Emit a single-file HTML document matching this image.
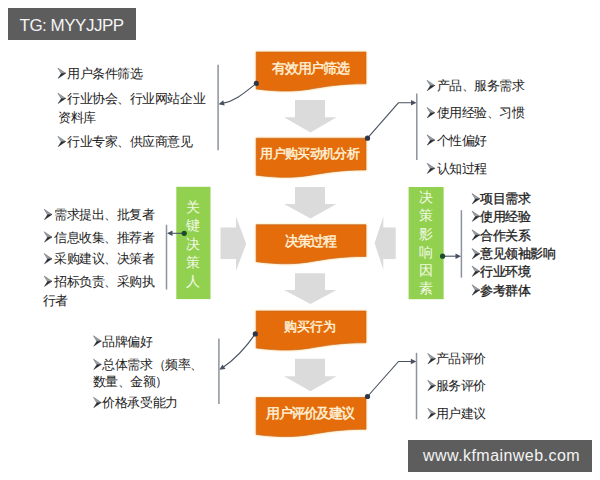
<!DOCTYPE html>
<html><head><meta charset="utf-8"><style>
html,body{margin:0;padding:0;background:#fff;width:600px;height:480px;overflow:hidden}
body{position:relative;font-family:"Liberation Sans",sans-serif}
svg{position:absolute;left:0;top:0}
.t{position:absolute;font-size:13px;letter-spacing:-0.45px;line-height:13px;white-space:nowrap;color:#222}
.b{-webkit-text-stroke:0.3px #222}
.bt{fill:#FFF1D8;stroke:#FFF1D8;stroke-width:0.45px;font-weight:normal;font-family:"Liberation Sans",sans-serif}
.gt{position:absolute;width:20px;text-align:center;font-size:14px;line-height:16px;color:#F2FAE6}
.wm{position:absolute;background:#5D5D5D}
.wt{position:absolute;color:#F4F4F4;white-space:nowrap;line-height:18px}
</style></head><body>
<svg width="600" height="480" viewBox="0 0 600 480">
<path d="M256.20,52.00 H366.00 V83.76 C311.10,83.76 311.10,95.86 256.20,88.99 Z" fill="none" stroke="#FFF4DC" stroke-width="3.5" stroke-linejoin="round"/>
<path d="M256.20,52.00 H366.00 V83.76 C311.10,83.76 311.10,95.86 256.20,88.99 Z" fill="#E46C0A" stroke="#C9691F" stroke-width="0.7"/>
<path d="M256.20,138.20 H366.00 V169.96 C311.10,169.96 311.10,182.06 256.20,175.19 Z" fill="none" stroke="#FFF4DC" stroke-width="3.5" stroke-linejoin="round"/>
<path d="M256.20,138.20 H366.00 V169.96 C311.10,169.96 311.10,182.06 256.20,175.19 Z" fill="#E46C0A" stroke="#C9691F" stroke-width="0.7"/>
<path d="M256.20,224.70 H366.00 V256.46 C311.10,256.46 311.10,268.56 256.20,261.69 Z" fill="none" stroke="#FFF4DC" stroke-width="3.5" stroke-linejoin="round"/>
<path d="M256.20,224.70 H366.00 V256.46 C311.10,256.46 311.10,268.56 256.20,261.69 Z" fill="#E46C0A" stroke="#C9691F" stroke-width="0.7"/>
<path d="M256.20,311.00 H366.00 V342.76 C311.10,342.76 311.10,354.86 256.20,347.99 Z" fill="none" stroke="#FFF4DC" stroke-width="3.5" stroke-linejoin="round"/>
<path d="M256.20,311.00 H366.00 V342.76 C311.10,342.76 311.10,354.86 256.20,347.99 Z" fill="#E46C0A" stroke="#C9691F" stroke-width="0.7"/>
<path d="M256.20,397.50 H366.00 V429.26 C311.10,429.26 311.10,441.36 256.20,434.49 Z" fill="none" stroke="#FFF4DC" stroke-width="3.5" stroke-linejoin="round"/>
<path d="M256.20,397.50 H366.00 V429.26 C311.10,429.26 311.10,441.36 256.20,434.49 Z" fill="#E46C0A" stroke="#C9691F" stroke-width="0.7"/>
<path d="M295,100 H325 V117.3 H336.5 L310.5,132.4 L284,117.3 H295 Z" fill="#DBDBDB"/>
<path d="M295,187 H325 V204 H336.5 L310.5,218.5 L284,204 H295 Z" fill="#DBDBDB"/>
<path d="M295,273.3 H325 V290 H336.5 L310.5,304 L284,290 H295 Z" fill="#DBDBDB"/>
<path d="M295,358.8 H325 V376.3 H336.5 L310.5,391.3 L284,376.3 H295 Z" fill="#DBDBDB"/>
<path d="M220.5,227.5 H236 V216.6 L246.2,243.7 L236,271 V258.9 H220.5 Z" fill="#DBDBDB"/>
<path d="M395.7,227.5 H383.3 V216.6 L374.6,243.2 L383.3,269.8 V258.9 H395.7 Z" fill="#DBDBDB"/>
<rect x="176.3" y="186.8" width="34.2" height="112.3" fill="#92D050"/>
<rect x="408.6" y="187" width="35" height="112.2" fill="#92D050"/>
<line x1="218.1" y1="64.8" x2="218.1" y2="150.3" stroke="#8C939C" stroke-width="1.5"/>
<line x1="416.8" y1="93.4" x2="416.8" y2="160" stroke="#8C939C" stroke-width="1.5"/>
<line x1="166.5" y1="224.7" x2="166.5" y2="289.5" stroke="#8C939C" stroke-width="1.5"/>
<line x1="461.4" y1="210.2" x2="461.4" y2="277.6" stroke="#8C939C" stroke-width="1.5"/>
<line x1="218.9" y1="338.5" x2="218.9" y2="404" stroke="#8C939C" stroke-width="1.5"/>
<line x1="416.5" y1="352.8" x2="416.5" y2="419.3" stroke="#8C939C" stroke-width="1.5"/>
<path d="M256.3,83.4 C247,90.5 237,100.5 222.5,103.4" fill="none" stroke="#485160" stroke-width="1.1"/>
<path d="M218.60,104.30 L223.18,100.16 L224.64,105.57 Z" fill="#485160"/>
<circle cx="256.3" cy="83.4" r="2.6" fill="#2E3648"/>
<path d="M367.5,138.2 L398.4,102.8 H412" fill="none" stroke="#485160" stroke-width="1.1"/>
<path d="M416.50,102.80 L411.00,105.60 L411.00,100.00 Z" fill="#485160"/>
<circle cx="367.5" cy="138.2" r="2.6" fill="#2E3648"/>
<path d="M184.2,233.3 H172" fill="none" stroke="#485160" stroke-width="1.1"/>
<path d="M167.00,233.30 L172.50,230.50 L172.50,236.10 Z" fill="#485160"/>
<circle cx="184.2" cy="233.3" r="2.6" fill="#1E4A2C"/>
<path d="M442.6,256.2 H456" fill="none" stroke="#485160" stroke-width="1.1"/>
<path d="M461.00,256.20 L455.50,259.00 L455.50,253.40 Z" fill="#485160"/>
<circle cx="442.6" cy="256.2" r="2.6" fill="#1E4A2C"/>
<path d="M255.3,333.9 Q240,356 222.5,367.7" fill="none" stroke="#485160" stroke-width="1.1"/>
<path d="M219.40,369.80 L222.41,364.41 L225.53,369.06 Z" fill="#485160"/>
<circle cx="255.3" cy="333.9" r="2.6" fill="#2E3648"/>
<path d="M367.5,396.5 L398.5,361.5 H411" fill="none" stroke="#485160" stroke-width="1.1"/>
<path d="M416.30,361.50 L410.80,364.30 L410.80,358.70 Z" fill="#485160"/>
<circle cx="367.5" cy="396.5" r="2.6" fill="#2E3648"/>
<path d="M57.90,68.05 L65.70,73.25 L61.20,73.55 Z" fill="#9A9EA5" stroke="#6F737A" stroke-width="0.6" stroke-linejoin="round"/><path d="M61.20,73.55 L65.70,73.25 L58.10,78.45 Z" fill="#262A31" stroke="#262A31" stroke-width="0.4" stroke-linejoin="round"/>
<path d="M57.90,93.20 L65.70,98.40 L61.20,98.70 Z" fill="#9A9EA5" stroke="#6F737A" stroke-width="0.6" stroke-linejoin="round"/><path d="M61.20,98.70 L65.70,98.40 L58.10,103.60 Z" fill="#262A31" stroke="#262A31" stroke-width="0.4" stroke-linejoin="round"/>
<path d="M57.90,136.30 L65.70,141.50 L61.20,141.80 Z" fill="#9A9EA5" stroke="#6F737A" stroke-width="0.6" stroke-linejoin="round"/><path d="M61.20,141.80 L65.70,141.50 L58.10,146.70 Z" fill="#262A31" stroke="#262A31" stroke-width="0.4" stroke-linejoin="round"/>
<path d="M427.00,80.30 L434.80,85.50 L430.30,85.80 Z" fill="#9A9EA5" stroke="#6F737A" stroke-width="0.6" stroke-linejoin="round"/><path d="M430.30,85.80 L434.80,85.50 L427.20,90.70 Z" fill="#262A31" stroke="#262A31" stroke-width="0.4" stroke-linejoin="round"/>
<path d="M427.00,107.50 L434.80,112.70 L430.30,113.00 Z" fill="#9A9EA5" stroke="#6F737A" stroke-width="0.6" stroke-linejoin="round"/><path d="M430.30,113.00 L434.80,112.70 L427.20,117.90 Z" fill="#262A31" stroke="#262A31" stroke-width="0.4" stroke-linejoin="round"/>
<path d="M427.00,134.80 L434.80,140.00 L430.30,140.30 Z" fill="#9A9EA5" stroke="#6F737A" stroke-width="0.6" stroke-linejoin="round"/><path d="M430.30,140.30 L434.80,140.00 L427.20,145.20 Z" fill="#262A31" stroke="#262A31" stroke-width="0.4" stroke-linejoin="round"/>
<path d="M427.00,163.10 L434.80,168.30 L430.30,168.60 Z" fill="#9A9EA5" stroke="#6F737A" stroke-width="0.6" stroke-linejoin="round"/><path d="M430.30,168.60 L434.80,168.30 L427.20,173.50 Z" fill="#262A31" stroke="#262A31" stroke-width="0.4" stroke-linejoin="round"/>
<path d="M44.20,209.30 L52.00,214.50 L47.50,214.80 Z" fill="#9A9EA5" stroke="#6F737A" stroke-width="0.6" stroke-linejoin="round"/><path d="M47.50,214.80 L52.00,214.50 L44.40,219.70 Z" fill="#262A31" stroke="#262A31" stroke-width="0.4" stroke-linejoin="round"/>
<path d="M44.20,231.80 L52.00,237.00 L47.50,237.30 Z" fill="#9A9EA5" stroke="#6F737A" stroke-width="0.6" stroke-linejoin="round"/><path d="M47.50,237.30 L52.00,237.00 L44.40,242.20 Z" fill="#262A31" stroke="#262A31" stroke-width="0.4" stroke-linejoin="round"/>
<path d="M44.20,253.55 L52.00,258.75 L47.50,259.05 Z" fill="#9A9EA5" stroke="#6F737A" stroke-width="0.6" stroke-linejoin="round"/><path d="M47.50,259.05 L52.00,258.75 L44.40,263.95 Z" fill="#262A31" stroke="#262A31" stroke-width="0.4" stroke-linejoin="round"/>
<path d="M44.20,276.05 L52.00,281.25 L47.50,281.55 Z" fill="#9A9EA5" stroke="#6F737A" stroke-width="0.6" stroke-linejoin="round"/><path d="M47.50,281.55 L52.00,281.25 L44.40,286.45 Z" fill="#262A31" stroke="#262A31" stroke-width="0.4" stroke-linejoin="round"/>
<path d="M472.00,193.55 L479.80,198.75 L475.30,199.05 Z" fill="#9A9EA5" stroke="#6F737A" stroke-width="0.6" stroke-linejoin="round"/><path d="M475.30,199.05 L479.80,198.75 L472.20,203.95 Z" fill="#262A31" stroke="#262A31" stroke-width="0.4" stroke-linejoin="round"/>
<path d="M472.00,211.05 L479.80,216.25 L475.30,216.55 Z" fill="#9A9EA5" stroke="#6F737A" stroke-width="0.6" stroke-linejoin="round"/><path d="M475.30,216.55 L479.80,216.25 L472.20,221.45 Z" fill="#262A31" stroke="#262A31" stroke-width="0.4" stroke-linejoin="round"/>
<path d="M472.00,229.80 L479.80,235.00 L475.30,235.30 Z" fill="#9A9EA5" stroke="#6F737A" stroke-width="0.6" stroke-linejoin="round"/><path d="M475.30,235.30 L479.80,235.00 L472.20,240.20 Z" fill="#262A31" stroke="#262A31" stroke-width="0.4" stroke-linejoin="round"/>
<path d="M472.00,248.55 L479.80,253.75 L475.30,254.05 Z" fill="#9A9EA5" stroke="#6F737A" stroke-width="0.6" stroke-linejoin="round"/><path d="M475.30,254.05 L479.80,253.75 L472.20,258.95 Z" fill="#262A31" stroke="#262A31" stroke-width="0.4" stroke-linejoin="round"/>
<path d="M472.00,266.05 L479.80,271.25 L475.30,271.55 Z" fill="#9A9EA5" stroke="#6F737A" stroke-width="0.6" stroke-linejoin="round"/><path d="M475.30,271.55 L479.80,271.25 L472.20,276.45 Z" fill="#262A31" stroke="#262A31" stroke-width="0.4" stroke-linejoin="round"/>
<path d="M472.00,284.80 L479.80,290.00 L475.30,290.30 Z" fill="#9A9EA5" stroke="#6F737A" stroke-width="0.6" stroke-linejoin="round"/><path d="M475.30,290.30 L479.80,290.00 L472.20,295.20 Z" fill="#262A31" stroke="#262A31" stroke-width="0.4" stroke-linejoin="round"/>
<path d="M93.50,335.80 L101.30,341.00 L96.80,341.30 Z" fill="#9A9EA5" stroke="#6F737A" stroke-width="0.6" stroke-linejoin="round"/><path d="M96.80,341.30 L101.30,341.00 L93.70,346.20 Z" fill="#262A31" stroke="#262A31" stroke-width="0.4" stroke-linejoin="round"/>
<path d="M93.50,359.20 L101.30,364.40 L96.80,364.70 Z" fill="#9A9EA5" stroke="#6F737A" stroke-width="0.6" stroke-linejoin="round"/><path d="M96.80,364.70 L101.30,364.40 L93.70,369.60 Z" fill="#262A31" stroke="#262A31" stroke-width="0.4" stroke-linejoin="round"/>
<path d="M93.50,397.30 L101.30,402.50 L96.80,402.80 Z" fill="#9A9EA5" stroke="#6F737A" stroke-width="0.6" stroke-linejoin="round"/><path d="M96.80,402.80 L101.30,402.50 L93.70,407.70 Z" fill="#262A31" stroke="#262A31" stroke-width="0.4" stroke-linejoin="round"/>
<path d="M427.70,353.50 L435.50,358.70 L431.00,359.00 Z" fill="#9A9EA5" stroke="#6F737A" stroke-width="0.6" stroke-linejoin="round"/><path d="M431.00,359.00 L435.50,358.70 L427.90,363.90 Z" fill="#262A31" stroke="#262A31" stroke-width="0.4" stroke-linejoin="round"/>
<path d="M427.70,380.30 L435.50,385.50 L431.00,385.80 Z" fill="#9A9EA5" stroke="#6F737A" stroke-width="0.6" stroke-linejoin="round"/><path d="M431.00,385.80 L435.50,385.50 L427.90,390.70 Z" fill="#262A31" stroke="#262A31" stroke-width="0.4" stroke-linejoin="round"/>
<path d="M427.70,408.30 L435.50,413.50 L431.00,413.80 Z" fill="#9A9EA5" stroke="#6F737A" stroke-width="0.6" stroke-linejoin="round"/><path d="M431.00,413.80 L435.50,413.50 L427.90,418.70 Z" fill="#262A31" stroke="#262A31" stroke-width="0.4" stroke-linejoin="round"/>
<text x="272.20" y="73.48" font-size="14" textLength="77.40" lengthAdjust="spacing" class="bt">有效用户筛选</text>
<text x="260.35" y="158.26" font-size="13" textLength="99.30" lengthAdjust="spacing" class="bt">用户购买动机分析</text>
<text x="284.90" y="245.68" font-size="14" textLength="52.10" lengthAdjust="spacing" class="bt">决策过程</text>
<text x="283.75" y="330.96" font-size="13" textLength="52.30" lengthAdjust="spacing" class="bt">购买行为</text>
<text x="266.30" y="418.18" font-size="14" textLength="88.90" lengthAdjust="spacing" class="bt">用户评价及建议</text>
</svg>
<div class="t" style="left:67.00px;top:66.75px">用户条件筛选</div>
<div class="t" style="left:67.00px;top:91.90px">行业协会、行业网站企业</div>
<div class="t" style="left:67.00px;top:135.00px">行业专家、供应商意见</div>
<div class="t" style="left:58.40px;top:111.00px">资料库</div>
<div class="t" style="left:436.50px;top:79.00px">产品、服务需求</div>
<div class="t" style="left:436.50px;top:106.20px">使用经验、习惯</div>
<div class="t" style="left:436.50px;top:133.50px">个性偏好</div>
<div class="t" style="left:436.50px;top:161.80px">认知过程</div>
<div class="t" style="left:54.00px;top:208.00px">需求提出、批复者</div>
<div class="t" style="left:54.00px;top:230.50px">信息收集、推荐者</div>
<div class="t" style="left:54.00px;top:252.25px">采购建议、决策者</div>
<div class="t" style="left:54.00px;top:274.75px">招标负责、采购执</div>
<div class="t" style="left:42.75px;top:293.50px">行者</div>
<div class="t b" style="left:480.25px;top:192.25px">项目需求</div>
<div class="t b" style="left:480.25px;top:209.75px">使用经验</div>
<div class="t b" style="left:480.25px;top:228.50px">合作关系</div>
<div class="t b" style="left:480.25px;top:247.25px">意见领袖影响</div>
<div class="t b" style="left:480.25px;top:264.75px">行业环境</div>
<div class="t b" style="left:480.25px;top:283.50px">参考群体</div>
<div class="t" style="left:102.40px;top:334.50px">品牌偏好</div>
<div class="t" style="left:102.40px;top:357.90px">总体需求（频率、</div>
<div class="t" style="left:102.40px;top:396.00px">价格承受能力</div>
<div class="t" style="left:92.50px;top:375.00px">数量、金额）</div>
<div class="t" style="left:435.50px;top:352.20px">产品评价</div>
<div class="t" style="left:435.50px;top:379.00px">服务评价</div>
<div class="t" style="left:435.50px;top:407.00px">用户建议</div>
<div class="gt" style="left:183.20px;top:198.90px">关</div>
<div class="gt" style="left:183.20px;top:217.30px">键</div>
<div class="gt" style="left:183.20px;top:235.70px">决</div>
<div class="gt" style="left:183.20px;top:254.10px">策</div>
<div class="gt" style="left:183.20px;top:272.50px">人</div>
<div class="gt" style="left:415.50px;top:189.20px">决</div>
<div class="gt" style="left:415.50px;top:207.40px">策</div>
<div class="gt" style="left:415.50px;top:225.60px">影</div>
<div class="gt" style="left:415.50px;top:243.80px">响</div>
<div class="gt" style="left:415.50px;top:262.20px">因</div>
<div class="gt" style="left:415.50px;top:280.30px">素</div>
<div class="wm" style="left:8px;top:8px;width:128px;height:32px"></div><div class="wt" style="left:19.5px;top:16.8px;font-size:17px;letter-spacing:-0.5px">TG: MYYJJPP</div>
<div class="wm" style="left:408px;top:440px;width:184px;height:32px"></div><div class="wt" style="left:423px;top:446.7px;font-size:16px;letter-spacing:0.45px">www.kfmainweb.com</div>
</body></html>
